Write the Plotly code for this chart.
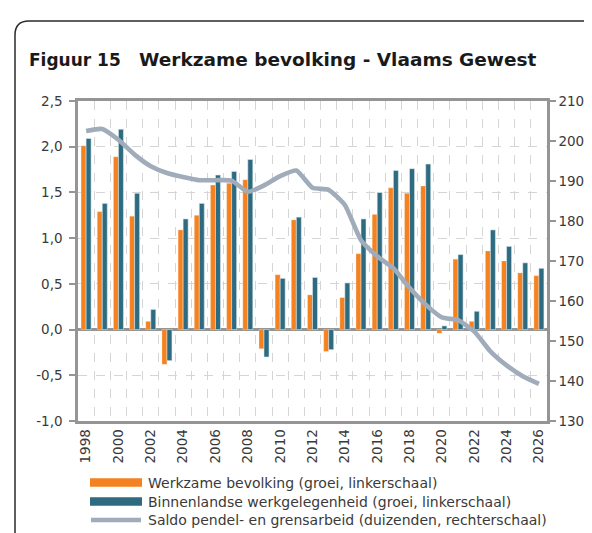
import plotly.graph_objects as go

years = list(range(1998, 2027))
werkzame = [2.01, 1.29, 1.89, 1.24, 0.09, -0.38, 1.09, 1.25, 1.58, 1.60, 1.64, -0.21,
            0.60, 1.20, 0.38, -0.24, 0.35, 0.83, 1.26, 1.55, 1.49, 1.57, -0.04, 0.77,
            0.09, 0.86, 0.75, 0.62, 0.59]
binnenlandse = [2.09, 1.38, 2.19, 1.49, 0.22, -0.34, 1.21, 1.38, 1.69, 1.73, 1.86, -0.30,
                0.56, 1.23, 0.57, -0.22, 0.51, 1.21, 1.50, 1.74, 1.76, 1.81, 0.04, 0.82,
                0.20, 1.09, 0.91, 0.73, 0.67]
saldo = [202.5, 203.0, 200.3, 196.6, 193.7, 192.0, 191.0, 190.2, 190.2, 190.1, 187.3, 188.9,
         191.2, 192.6, 188.3, 187.8, 184.0, 175.2, 171.2, 168.2, 163.3, 159.1, 155.9, 155.2,
         152.4, 147.4, 143.9, 141.2, 139.3]

left_vals = [-1.0, -0.5, 0.0, 0.5, 1.0, 1.5, 2.0, 2.5]
left_text = ["-1,0", "-0,5", "0,0", "0,5", "1,0", "1,5", "2,0", "2,5"]
right_vals = [130, 140, 150, 160, 170, 180, 190, 200, 210]
x_label_years = list(range(1998, 2027, 2))

names = ["Werkzame bevolking (groei, linkerschaal)",
         "Binnenlandse werkgelegenheid (groei, linkerschaal)",
         "Saldo pendel- en grensarbeid (duizenden, rechterschaal)"]
title_number = "<b>Figuur 15</b>"
title_text = "<b>Werkzame bevolking - Vlaams Gewest</b>"

ORANGE = "#F58220"
TEAL = "#2F6B80"
GREY_LINE = "#A0ACBA"
AXIS = "#959595"
FONT = "DejaVu Sans, sans-serif"
TXT = "#3A3A3A"

W, H = 592, 533
L, R, T, B = 70, 539, 93, 413

fig = go.Figure()
fig.add_trace(go.Bar(x=years, y=werkzame, name=names[0], marker_color=ORANGE,
                     marker_line=dict(color="rgba(255,255,255,0.35)", width=0.8),
                     showlegend=False))
fig.add_trace(go.Bar(x=years, y=binnenlandse, name=names[1], marker_color=TEAL,
                     marker_line=dict(color="rgba(220,235,240,0.7)", width=0.8),
                     showlegend=False))
fig.add_trace(go.Scatter(x=years, y=saldo, name=names[2], yaxis="y2", mode="lines",
                         line=dict(color=GREY_LINE, width=4.6, shape="spline", smoothing=0.5),
                         showlegend=False))


def px(x):
    return (x - L) / (R - L)


def py(y):
    return (B - y) / (B - T)


shapes = []
frame = (f"M {px(7)},{py(545)} L {px(7)},{py(27)} Q {px(7)},{py(13)} {px(21)},{py(13)} "
         f"L {px(577)},{py(13)} Q {px(591)},{py(13)} {px(591)},{py(27)} L {px(591)},{py(545)}")
shapes.append(dict(type="path", xref="paper", yref="paper", path=frame,
                   line=dict(color="#2b2b2b", width=1.5)))

rows = [474.5, 493.5, 512]
sx0, sx1 = 82, 134
shapes.append(dict(type="rect", xref="paper", yref="paper", x0=px(sx0), x1=px(sx1),
                   y0=py(rows[0] + 4.2), y1=py(rows[0] - 4.2), fillcolor=ORANGE, line_width=0))
shapes.append(dict(type="rect", xref="paper", yref="paper", x0=px(sx0), x1=px(sx1),
                   y0=py(rows[1] + 4.2), y1=py(rows[1] - 4.2), fillcolor=TEAL, line_width=0))
shapes.append(dict(type="line", xref="paper", yref="paper", x0=px(sx0 + 1), x1=px(sx1 - 1),
                   y0=py(rows[2]), y1=py(rows[2]), line=dict(color=GREY_LINE, width=4.3)))

annotations = []
for r, n in zip(rows, names):
    annotations.append(dict(xref="paper", yref="paper", x=px(138), y=py(r), text=n,
                            showarrow=False, xanchor="left", yanchor="middle",
                            font=dict(family=FONT, size=14, color=TXT)))
annotations.append(dict(xref="paper", yref="paper", x=px(19), y=py(52), text=title_number,
                        showarrow=False, xanchor="left", yanchor="middle",
                        font=dict(family=FONT, size=17, color="#1a1a1a")))
annotations.append(dict(xref="paper", yref="paper", x=px(129), y=py(52), text=title_text,
                        showarrow=False, xanchor="left", yanchor="middle",
                        font=dict(family=FONT, size=18.5, color="#1a1a1a")))

fig.update_layout(
    width=W, height=H,
    margin=dict(l=L, r=W - R, t=T, b=H - B, pad=0),
    paper_bgcolor="white", plot_bgcolor="white",
    barmode="group", bargap=0.38, bargroupgap=0.0,
    font=dict(family=FONT, size=13.5, color=TXT),
    xaxis=dict(range=[1997.5, 2026.5], tickmode="array", tickvals=x_label_years,
               ticktext=[str(v) for v in x_label_years], tickangle=-90,
               showgrid=False, ticks="", showline=True, linecolor=AXIS, linewidth=2.5,
               mirror=True, zeroline=False, tickfont=dict(size=13.5, color=TXT),
               minor=dict(tick0=1998.5, dtick=1, showgrid=True, gridcolor="#D5D5D5",
                          griddash="dash", gridwidth=1, ticks="")),
    yaxis=dict(range=[-1.0, 2.5], tickmode="array", tickvals=left_vals, ticktext=left_text,
               showgrid=True, gridcolor="#D5D5D5", griddash="dash", gridwidth=1,
               zeroline=True, zerolinecolor=AXIS, zerolinewidth=2.5,
               showline=True, linecolor=AXIS, linewidth=2.5,
               ticks="outside", ticklen=6, tickcolor=AXIS, tickwidth=1.5,
               ticklabelstandoff=4, tickfont=dict(size=13.5, color=TXT)),
    yaxis2=dict(range=[130, 210], overlaying="y", side="right", tickmode="array",
                tickvals=right_vals, showgrid=False, zeroline=False,
                showline=True, linecolor=AXIS, linewidth=2.5,
                ticks="outside", ticklen=6, tickcolor=AXIS, tickwidth=1.5,
                tickfont=dict(size=13.5, color=TXT)),
    shapes=shapes, annotations=annotations,
)

fig.write_html("out.html")
